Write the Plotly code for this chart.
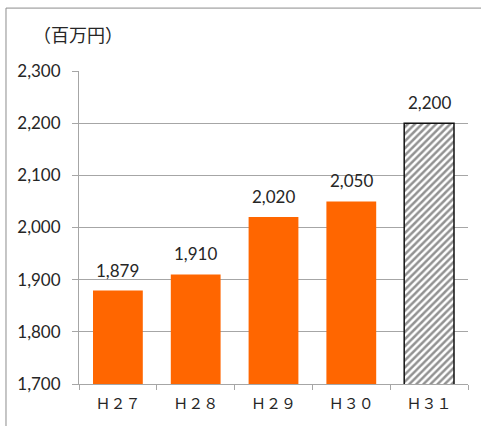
import plotly.graph_objects as go

# Fiscal years and budget amounts (million yen)
years = ["Ｈ２７", "Ｈ２８", "Ｈ２９", "Ｈ３０", "Ｈ３１"]
amounts = [1879, 1910, 2020, 2050, 2200]
value_labels = ["1,879", "1,910", "2,020", "2,050", "2,200"]

y_ticks = [1700, 1800, 1900, 2000, 2100, 2200, 2300]
y_tick_text = ["1,700", "1,800", "1,900", "2,000", "2,100", "2,200", "2,300"]

ORANGE = "#FF6600"
GRID = "#A6A6A6"
TEXT = "#262626"

fig = go.Figure()

# Settled years: solid orange bars
fig.add_trace(go.Bar(
    x=years[:4], y=amounts[:4],
    marker=dict(color=ORANGE, line=dict(width=0)),
    width=0.64,
    hoverinfo="skip",
))

# Latest year (budget): hatched bar
fig.add_trace(go.Bar(
    x=years[4:], y=amounts[4:],
    marker=dict(
        color="white",
        line=dict(color="#111111", width=1.5),
        pattern=dict(shape="/", fgcolor="#262626", bgcolor="white",
                     size=5, solidity=0.5),
    ),
    width=0.64,
    hoverinfo="skip",
))

annotations = [
    dict(x=x, y=v, text=t, showarrow=False, yanchor="bottom", yshift=8,
         font=dict(family="Lato, sans-serif", size=17, color=TEXT))
    for x, v, t in zip(years, amounts, value_labels)
]
annotations.append(dict(
    xref="paper", yref="paper", x=-0.123, y=1.117, xanchor="left", yanchor="middle",
    text="（百万円）", showarrow=False,
    font=dict(family="Noto Sans CJK JP", size=18, color=TEXT),
))

fig.update_layout(
    width=481, height=426, autosize=False,
    margin=dict(l=79, r=13, t=71, b=42),
    paper_bgcolor="white", plot_bgcolor="white",
    showlegend=False,
    barmode="overlay",
    annotations=annotations,
    shapes=[dict(
        type="rect", xref="paper", yref="paper",
        x0=-0.1877, x1=1.04, y0=-0.16, y1=1.201,
        line=dict(color="#8C8C8C", width=1), fillcolor="rgba(0,0,0,0)",
        layer="below",
    )],
    xaxis=dict(
        categoryorder="array", categoryarray=years,
        showline=True, linecolor=GRID, linewidth=1,
        ticks="outside", tickson="boundaries", ticklen=5, tickcolor=GRID,
        tickfont=dict(family="Noto Sans CJK JP", size=15, color=TEXT),
        ticklabelstandoff=6,
        showgrid=False, fixedrange=True,
    ),
    yaxis=dict(
        range=[1700, 2300],
        tickvals=y_ticks, ticktext=y_tick_text,
        showline=True, linecolor=GRID, linewidth=1,
        ticks="outside", ticklen=6, tickcolor=GRID,
        tickfont=dict(family="Lato, sans-serif", size=17, color=TEXT),
        ticklabelstandoff=8,
        showgrid=True, gridcolor=GRID, gridwidth=1,
        zeroline=False, fixedrange=True,
    ),
)

fig.write_html("out.html")
